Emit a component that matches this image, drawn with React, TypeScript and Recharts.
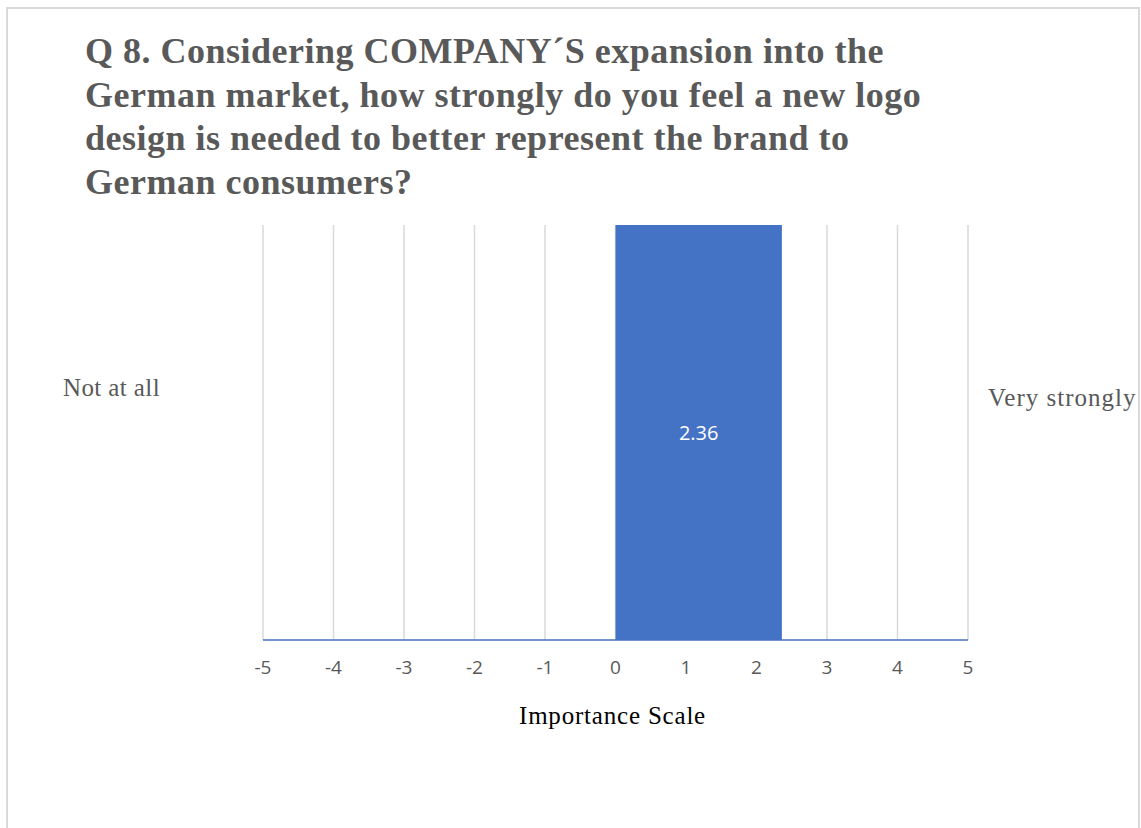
import { BarChart, Bar, XAxis, YAxis, CartesianGrid, LabelList } from 'recharts';

const categories = ['Q8'];
const meanScores = [2.36];
const scaleTicks = [-5, -4, -3, -2, -1, 0, 1, 2, 3, 4, 5];
const titleLines = [
  'Q 8. Considering COMPANY´S expansion into the',
  'German market, how strongly do you feel a new logo',
  'design is needed to better represent the brand to',
  'German consumers?',
];
const lowEndLabel = 'Not at all';
const highEndLabel = 'Very strongly';
const axisTitle = 'Importance Scale';

const data = categories.map((name, i) => ({ name, score: meanScores[i] }));

const serif = '"Liberation Serif", "Times New Roman", serif';
const sans = '"Open Sans", sans-serif';
const frame = '#d9d9d9';

export default function App() {
  return (
    <div style={{ position: 'fixed', left: 0, top: 0, width: 1141, height: 828, overflow: 'hidden', background: '#fff' }}>
      {/* chart frame, cut off at the bottom like the original */}
      <div style={{ position: 'absolute', left: 6, top: 7, width: 1134, height: 2, background: frame }} />
      <div style={{ position: 'absolute', left: 6, top: 7, width: 2, height: 821, background: frame }} />
      <div style={{ position: 'absolute', left: 1138, top: 7, width: 2, height: 821, background: frame }} />
      <div
        style={{
          position: 'absolute',
          left: 85,
          top: 30,
          fontFamily: serif,
          fontWeight: 'bold',
          fontSize: 36,
          letterSpacing: 0.5,
          lineHeight: '43.5px',
          color: '#595959',
          whiteSpace: 'nowrap',
        }}
      >
        {titleLines.map((l) => (
          <div key={l}>{l}</div>
        ))}
      </div>
      <div style={{ position: 'absolute', left: 0, top: 0 }}>
        <BarChart
          width={1141}
          height={828}
          layout="vertical"
          data={data}
          barCategoryGap={0}
          margin={{ top: 225, right: 173, left: 263, bottom: 158 }}
        >
          <CartesianGrid horizontal={false} stroke="#d9d9d9" strokeWidth={1.5} />
          <XAxis
            type="number"
            dataKey="score"
            domain={[-5, 5]}
            ticks={scaleTicks}
            interval={0}
            height={30}
            tickLine={false}
            tickMargin={15}
            fontSize={19}
            fontFamily={sans}
            axisLine={{ stroke: '#4472C4', strokeWidth: 1.5 }}
            tick={{ fill: '#595959', fontSize: 19, fontFamily: sans }}
          />
          <YAxis type="category" dataKey="name" hide width={0} />
          <Bar dataKey="score" fill="#4472C4" isAnimationActive={false}>
            <LabelList dataKey="score" position="center" fill="#ffffff" fontSize={20} fontFamily={sans} />
          </Bar>
        </BarChart>
      </div>
      <div
        style={{ position: 'absolute', left: 63, top: 373, lineHeight: '30px', fontFamily: serif, fontSize: 25, letterSpacing: 0.4, color: '#595959', whiteSpace: 'nowrap' }}
      >
        {lowEndLabel}
      </div>
      <div
        style={{ position: 'absolute', left: 988, top: 383, lineHeight: '30px', fontFamily: serif, fontSize: 25, letterSpacing: 1, color: '#595959', whiteSpace: 'nowrap' }}
      >
        {highEndLabel}
      </div>
      <div
        style={{ position: 'absolute', left: 519, top: 701, lineHeight: '30px', fontFamily: serif, fontSize: 25, letterSpacing: 0.8, color: '#000', whiteSpace: 'nowrap' }}
      >
        {axisTitle}
      </div>
    </div>
  );
}
